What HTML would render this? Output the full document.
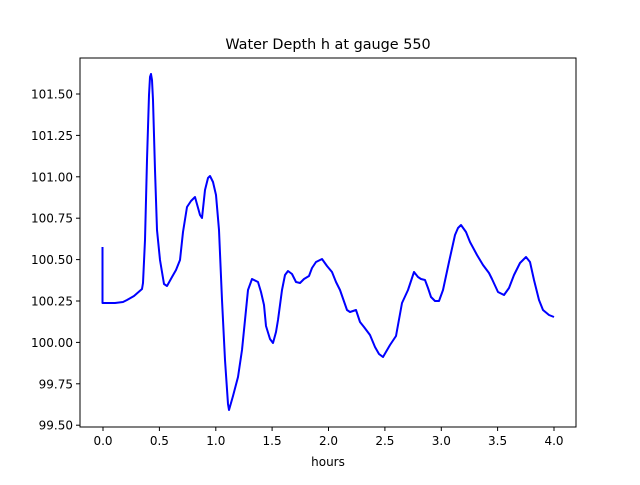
<!DOCTYPE html>
<html><head><style>body{margin:0;background:#fff}</style></head><body>
<svg width="640" height="480" xmlns="http://www.w3.org/2000/svg" font-family="DejaVu Sans, Liberation Sans, sans-serif" font-size="12">
<rect width="640" height="480" fill="#fff"/>
<polyline fill="none" stroke="#0000ff" stroke-width="2" stroke-linejoin="round" points="102.5,247 102.5,303 115,303 123,302 127,300 134,296 142,289 143,283 145,240 147,160 149,95 150,77 151,74 152,80 153,100 155,170 157,230 160,260 164,284 167,286 172,277 176,270 180,260 183,232 187,207 191,201 195,197 200,215 202,218 205,190 208,178 210,176 213,182 216,195 219,230 222,300 225,360 228,404 229,410 233,396 238,377 242,350 248,290 252,279 258,282 261,292 264,305 266,326 270,339 273,343 276,332 278,320 282,290 285,275 288,271 292,274 296,282 300,283 304,279 309,276 312,268 316,262 322,259 327,266 332,272 336,282 340,290 347,310 350,312 356,310 360,322 364,327 370,335 375,347 379,354 383,357 390,345 396,336 402,303 408,290 414,272 418,277 421,279 425,280 428,288 431,297 435,301 439,301 443,290 449,262 455,235 458,228 461,225 466,232 470,242 477,255 483,265 489,273 492,279 498,292 504,295 509,288 514,275 520,263 526,257 530,262 534,280 539,300 543,310 549,315 554,317"/>
<rect x="80" y="58" width="496" height="369" fill="none" stroke="#000" stroke-width="1"/>
<g stroke="#000">
<line x1="103" y1="427" x2="103" y2="431"/><line x1="159.4" y1="427" x2="159.4" y2="431"/><line x1="215.8" y1="427" x2="215.8" y2="431"/><line x1="272.1" y1="427" x2="272.1" y2="431"/><line x1="328.5" y1="427" x2="328.5" y2="431"/><line x1="384.9" y1="427" x2="384.9" y2="431"/><line x1="441.3" y1="427" x2="441.3" y2="431"/><line x1="497.6" y1="427" x2="497.6" y2="431"/><line x1="554" y1="427" x2="554" y2="431"/>
<line x1="76" y1="94" x2="80" y2="94"/><line x1="76" y1="135.4" x2="80" y2="135.4"/><line x1="76" y1="176.8" x2="80" y2="176.8"/><line x1="76" y1="218.2" x2="80" y2="218.2"/><line x1="76" y1="259.6" x2="80" y2="259.6"/><line x1="76" y1="301" x2="80" y2="301"/><line x1="76" y1="342.4" x2="80" y2="342.4"/><line x1="76" y1="383.8" x2="80" y2="383.8"/><line x1="76" y1="425.2" x2="80" y2="425.2"/>
</g>
<g text-anchor="middle">
<text x="103" y="445">0.0</text><text x="159.4" y="445">0.5</text><text x="215.8" y="445">1.0</text><text x="272.1" y="445">1.5</text><text x="328.5" y="445">2.0</text><text x="384.9" y="445">2.5</text><text x="441.3" y="445">3.0</text><text x="497.6" y="445">3.5</text><text x="554" y="445">4.0</text>
<text x="328" y="466">hours</text>
<text x="328" y="49" font-size="14.4">Water Depth h at gauge 550</text>
</g>
<g text-anchor="end">
<text x="73" y="98.5">101.50</text><text x="73" y="139.9">101.25</text><text x="73" y="181.3">101.00</text><text x="73" y="222.7">100.75</text><text x="73" y="264.1">100.50</text><text x="73" y="305.5">100.25</text><text x="73" y="346.9">100.00</text><text x="73" y="388.3">99.75</text><text x="73" y="429.7">99.50</text>
</g>
</svg>
</body></html>
